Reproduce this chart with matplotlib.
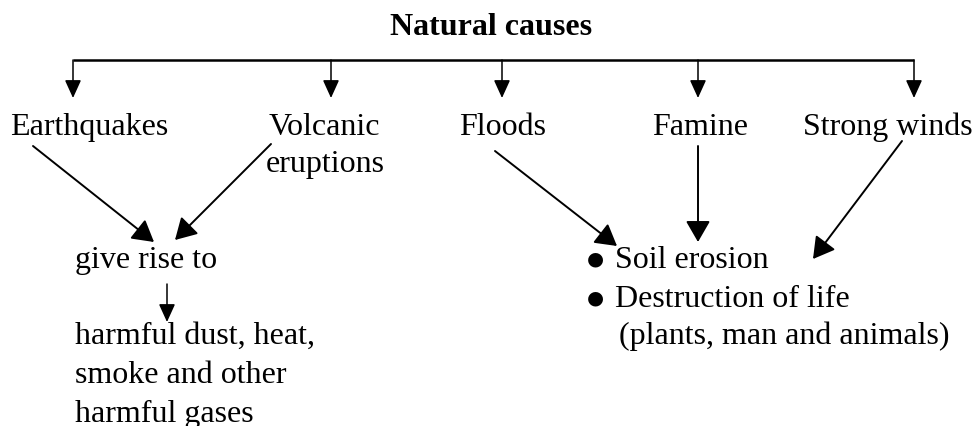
import matplotlib.pyplot as plt
from matplotlib.patches import FancyArrowPatch

plt.rcParams["font.family"] = ["Liberation Serif", "DejaVu Serif"]

# texts of the diagram
title = "Natural causes"
causes = ["Earthquakes", "Volcanic", "Floods", "Famine", "Strong winds"]
cause_x = [10, 269, 459, 652, 803]     # left edge of each label
drop_x = [73, 331, 502, 698, 914]      # arrows from the bar
middle = "give rise to"
result_left = ["harmful dust, heat,", "smoke and other", "harmful gases"]
result_right = ["Soil erosion", "Destruction of life"]
result_right_note = "(plants, man and animals)"

FS = 23
W, H = 973, 427

fig = plt.figure(figsize=(W / 100, H / 100), dpi=100)
ax = fig.add_axes([0, 0, 1, 1])
ax.set_xlim(0, W)
ax.set_ylim(H, 0)
ax.axis("off")


def arrow(p0, p1, big=False):
    if big:
        style = "-|>,head_length=13,head_width=7.5"
        lw = 1.4
    else:
        style = "-|>,head_length=11,head_width=5"
        lw = 1.1
    a = FancyArrowPatch(p0, p1, arrowstyle=style, mutation_scale=1,
                        color="black", lw=lw, shrinkA=0, shrinkB=0)
    ax.add_patch(a)


# title and bar
ax.text(491, 35, title, fontsize=FS, fontweight="bold", ha="center", va="baseline")
ax.plot([drop_x[0], drop_x[-1]], [61, 61], color="black", lw=1.8, solid_capstyle="butt")
for x in drop_x:
    arrow((x, 61), (x, 99))

# cause labels
for x, lab in zip(cause_x, causes):
    ax.text(x, 135, lab, fontsize=FS, ha="left", va="baseline")
ax.text(266, 172, "eruptions", fontsize=FS, ha="left", va="baseline")

# left branch
arrow((33, 147), (154, 243), big=True)
arrow((271, 145), (175, 241), big=True)
ax.text(75, 268, middle, fontsize=FS, ha="left", va="baseline")
arrow((167, 285), (167, 323))
for y, lab in zip([344, 383, 422], result_left):
    ax.text(75, y, lab, fontsize=FS, ha="left", va="baseline")

# right branch
arrow((495, 152), (617, 247), big=True)
arrow((698, 147), (698, 243), big=True)
arrow((902, 142), (813, 260), big=True)
for y, lab in zip([268, 307], result_right):
    ax.text(595, y - 9, "\u25cf", fontsize=14, ha="center", va="center",
            family=["DejaVu Sans"])
    ax.text(615, y, lab, fontsize=FS, ha="left", va="baseline")
ax.text(619, 344, result_right_note, fontsize=FS, ha="left", va="baseline")

fig.savefig("out.png", dpi=100)
